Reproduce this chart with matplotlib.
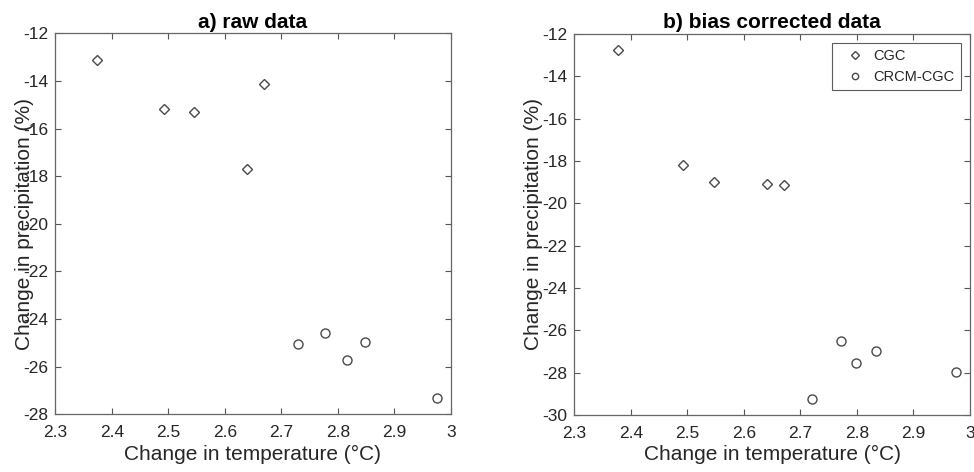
import matplotlib
matplotlib.use("Agg")
import matplotlib.pyplot as plt

plt.rcParams['font.family'] = ['Liberation Sans', 'DejaVu Sans']

# a) raw data
raw_cgc_t = [2.374, 2.492, 2.545, 2.639, 2.670]
raw_cgc_p = [-13.11, -15.19, -15.29, -17.68, -14.13]
raw_crcm_t = [2.730, 2.778, 2.817, 2.848, 2.975]
raw_crcm_p = [-25.03, -24.58, -25.72, -24.98, -27.30]

# b) bias corrected data
bc_cgc_t = [2.377, 2.492, 2.547, 2.641, 2.671]
bc_cgc_p = [-12.76, -18.17, -18.99, -19.07, -19.15]
bc_crcm_t = [2.721, 2.772, 2.799, 2.834, 2.976]
bc_crcm_p = [-29.26, -26.49, -27.54, -26.98, -27.95]

titles = ["a) raw data", "b) bias corrected data"]
xlabel = "Change in temperature (°C)"
ylabel = "Change in precipitation (%)"
xticks = [2.3, 2.4, 2.5, 2.6, 2.7, 2.8, 2.9, 3.0]
xticklabels = ["2.3", "2.4", "2.5", "2.6", "2.7", "2.8", "2.9", "3"]
yticks_a = list(range(-28, -11, 2))
yticks_b = list(range(-30, -11, 2))

fig = plt.figure(figsize=(9.74, 4.72), dpi=100)
W, H = 974, 472
ax1 = fig.add_axes([55.3 / W, 1 - 414.3 / H, (450.7 - 55.3) / W, (414.3 - 33.3) / H])
ax2 = fig.add_axes([574.3 / W, 1 - 415 / H, (969.7 - 574.3) / W, (415 - 34) / H])

mc = '#4a4a4a'
tc = '#262626'

def style(ax, title, ylim, yticks, ylab_x):
    ax.set_xlim(2.3, 3.0)
    ax.set_ylim(*ylim)
    ax.set_xticks(xticks)
    ax.set_xticklabels(xticklabels)
    ax.set_yticks(yticks)
    ax.set_yticklabels([str(v) for v in yticks])
    ax.tick_params(direction='in', top=True, right=True, length=4, width=0.8,
                   colors='#555555', labelcolor=tc, labelsize=12.5)
    ax.tick_params(axis='x', pad=8)
    ax.tick_params(axis='y', pad=5)
    for s in ax.spines.values():
        s.set_color('#666666')
        s.set_linewidth(0.9)
    ax.set_title(title, fontsize=15, fontweight='bold', color='black', pad=4)
    ax.set_xlabel(xlabel, fontsize=15, color=tc, labelpad=3)
    ax.set_ylabel(ylabel, fontsize=15, color=tc)
    ax.yaxis.set_label_coords(ylab_x, 0.5)

ax1.plot(raw_cgc_t, raw_cgc_p, linestyle='none', marker='D', markersize=5.5,
         markerfacecolor='white', markeredgecolor=mc, markeredgewidth=1.0, label='CGC')
ax1.plot(raw_crcm_t, raw_crcm_p, linestyle='none', marker='o', markersize=6.5,
         markerfacecolor='white', markeredgecolor=mc, markeredgewidth=1.0, label='CRCM-CGC')
style(ax1, titles[0], (-28, -12), yticks_a, -0.055)

ax2.plot(bc_cgc_t, bc_cgc_p, linestyle='none', marker='D', markersize=5.5,
         markerfacecolor='white', markeredgecolor=mc, markeredgewidth=1.0, label='CGC')
ax2.plot(bc_crcm_t, bc_crcm_p, linestyle='none', marker='o', markersize=6.5,
         markerfacecolor='white', markeredgecolor=mc, markeredgewidth=1.0, label='CRCM-CGC')
style(ax2, titles[1], (-30, -12), yticks_b, -0.078)

leg = ax2.legend(loc='upper right', fontsize=10.5, frameon=True, fancybox=False,
                 markerscale=0.7, handlelength=2.2, handletextpad=0.15,
                 borderpad=0.45, labelspacing=0.45, borderaxespad=0.6)
leg.get_frame().set_edgecolor('#333333')
leg.get_frame().set_linewidth(0.8)
for t in leg.get_texts():
    t.set_color(tc)

fig.savefig("out.png", dpi=100)
